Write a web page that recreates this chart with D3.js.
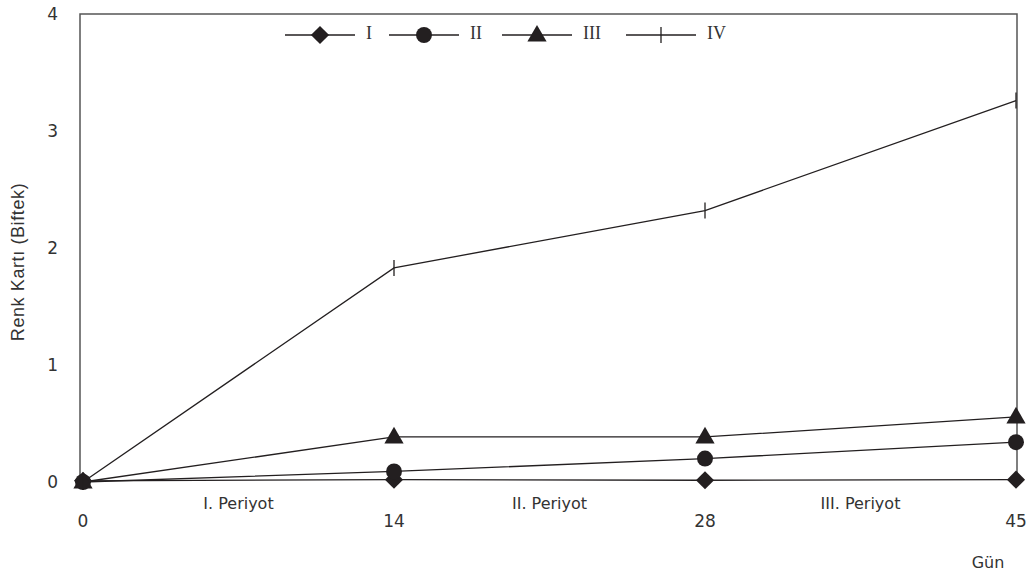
<!DOCTYPE html>
<html><head><meta charset="utf-8">
<script src="https://cdn.jsdelivr.net/npm/d3@7"></script>
<style>body{margin:0;background:#fff}</style>
</head><body>
<svg id="c" width="1031" height="576"></svg>
<script>
const days = ["0", "14", "28", "45"];
const yTicks = [0, 1, 2, 3, 4];
const seriesNames = ["I", "II", "III", "IV"];
const serI = [0.01, 0.02, 0.015, 0.02];
const serII = [0.0, 0.09, 0.2, 0.34];
const serIII = [0.0, 0.385, 0.385, 0.556];
const serIV = [0.0, 1.83, 2.32, 3.26];
const periods = ["I. Periyot", "II. Periyot", "III. Periyot"];
const yTitle = "Renk Kartı (Biftek)";
const xTitle = "Gün";

const svg = d3.select("#c");
const x = d3.scalePoint().domain(days).range([83, 1016]);
const y = d3.scaleLinear().domain([0, 4]).range([482, 14]);
const ink = "#231f20";
const txt = "#333";
const font = "'DejaVu Sans', sans-serif";

// frame (left, top, right)
svg.append("path")
  .attr("d", `M80,${y(0)+2}V${y(4)}H1017V${y(0)+2}`)
  .attr("fill", "none").attr("stroke", "#555").attr("stroke-width", 1.5);

// y tick labels
svg.selectAll(".yt").data(yTicks).enter().append("text")
  .attr("x", 58).attr("y", d => y(d)).attr("dy", "0.35em")
  .attr("text-anchor", "end").attr("font-family", font).attr("font-size", 17)
  .attr("fill", txt).text(d => d);

// x tick labels
svg.selectAll(".xt").data(days).enter().append("text")
  .attr("x", d => x(d)).attr("y", 521).attr("dy", "0.35em")
  .attr("text-anchor", "middle").attr("font-family", font).attr("font-size", 17)
  .attr("fill", txt).text(d => d);

// period labels
svg.selectAll(".pt").data(periods).enter().append("text")
  .attr("x", (d, i) => (x(days[i]) + x(days[i + 1])) / 2).attr("y", 503).attr("dy", "0.35em")
  .attr("text-anchor", "middle").attr("font-family", font).attr("font-size", 16)
  .attr("fill", txt).text(d => d);

svg.append("text").attr("x", 988).attr("y", 562).attr("dy", "0.35em")
  .attr("text-anchor", "middle").attr("font-family", font).attr("font-size", 16)
  .attr("fill", txt).text(xTitle);

svg.append("text").attr("transform", "translate(18,262) rotate(-90)")
  .attr("dy", "0.35em").attr("text-anchor", "middle")
  .attr("font-family", "'Liberation Sans', Arial, sans-serif").attr("font-size", 18)
  .attr("letter-spacing", 0.6)
  .attr("fill", txt).text(yTitle);

const series = [
  {name: seriesNames[0], vals: serI, sym: d3.symbolSquare, size: 165, rot: 45},
  {name: seriesNames[1], vals: serII, sym: d3.symbolCircle, size: 200, rot: 0},
  {name: seriesNames[2], vals: serIII, sym: d3.symbolTriangle, size: 160, rot: 0},
  {name: seriesNames[3], vals: serIV, sym: null, size: 0, rot: 0}
];

const line = d3.line().x((d, i) => x(days[i])).y(d => y(d));

function marker(g, s, cx, cy) {
  if (s.sym) {
    g.append("path").attr("d", d3.symbol().type(s.sym).size(s.size)())
      .attr("transform", `translate(${cx},${cy + (s.sym === d3.symbolTriangle ? 1 : 0)}) rotate(${s.rot})`)
      .attr("fill", ink);
  } else {
    g.append("line").attr("x1", cx).attr("x2", cx).attr("y1", cy - 8).attr("y2", cy + 8)
      .attr("stroke", ink).attr("stroke-width", 1.3);
  }
}

series.forEach(s => {
  svg.append("path").datum(s.vals).attr("d", line)
    .attr("fill", "none").attr("stroke", ink).attr("stroke-width", 1.3);
});
series.forEach(s => {
  const g = svg.append("g");
  s.vals.forEach((v, i) => marker(g, s, x(days[i]), y(v)));
});

// legend
const legX = [285, 389, 502, 626];
const legY = 35;
series.forEach((s, i) => {
  const g = svg.append("g");
  g.append("line").attr("x1", legX[i]).attr("x2", legX[i] + 70)
    .attr("y1", legY).attr("y2", legY).attr("stroke", ink).attr("stroke-width", 1.3);
  marker(g, s, legX[i] + 35, legY);
  g.append("text").attr("x", legX[i] + 81).attr("y", legY - 2).attr("dy", "0.35em")
    .attr("font-family", "'Liberation Serif', serif").attr("font-size", 18)
    .attr("fill", txt).text(s.name);
});
</script>
</body></html>
